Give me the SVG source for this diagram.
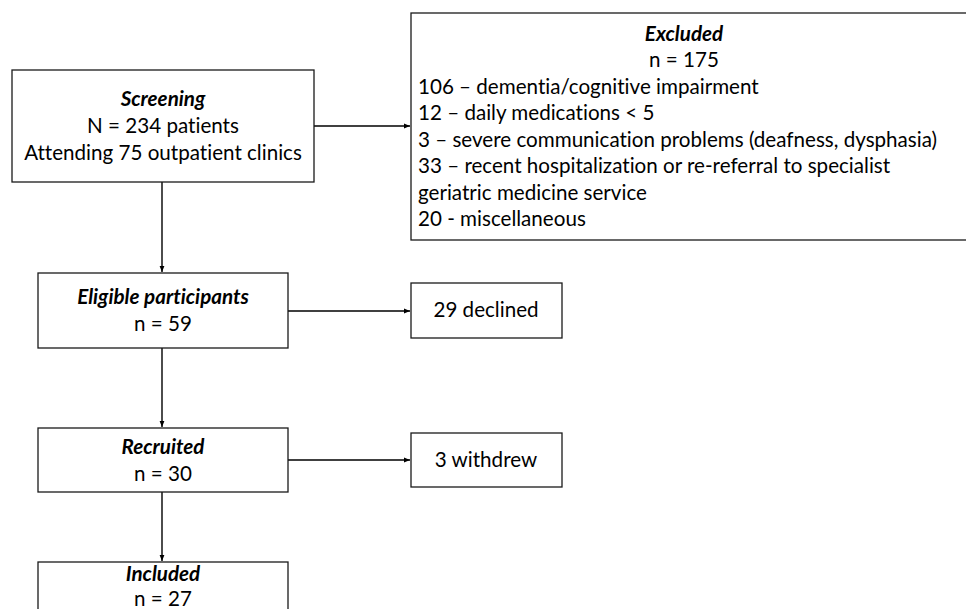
<svg xmlns="http://www.w3.org/2000/svg" width="966" height="609" viewBox="0 0 966 609">
<defs>
<marker id="arr" viewBox="0 0 10 10" refX="10" refY="5" markerWidth="6" markerHeight="6" markerUnits="userSpaceOnUse" orient="auto">
<path d="M0,1 L10,5 L0,9 z" fill="#000"/>
</marker>
<style>
.box{fill:#fff;stroke:#1a1a1a;stroke-width:1.3}
.t{font-family:Lato,"Open Sans","Liberation Sans",sans-serif;font-size:20.6px;fill:#000;font-variant-ligatures:none;font-feature-settings:"liga" 0,"clig" 0}
.c{text-anchor:middle}
.i{font-style:italic;font-weight:bold}
.ln{stroke:#000;stroke-width:1.4;fill:none}
</style>
</defs>
<rect width="966" height="609" fill="#fff"/>
<g id="connectors">
<line class="ln" x1="314" y1="126" x2="410" y2="126" marker-end="url(#arr)"/>
<line class="ln" x1="162" y1="182" x2="162" y2="272" marker-end="url(#arr)"/>
<line class="ln" x1="288" y1="311" x2="410" y2="311" marker-end="url(#arr)"/>
<line class="ln" x1="162" y1="348" x2="162" y2="427" marker-end="url(#arr)"/>
<line class="ln" x1="288" y1="460" x2="410" y2="460" marker-end="url(#arr)"/>
<line class="ln" x1="162" y1="492" x2="162" y2="561" marker-end="url(#arr)"/>
</g>
<g id="screening">
<rect class="box" x="12" y="70" width="302" height="112"/>
<text class="t c i" x="163" y="106">Screening</text>
<text class="t c" x="163" y="133">N = 234 patients</text>
<text class="t c" x="163" y="160">Attending 75 outpatient clinics</text>
</g>
<g id="excluded">
<rect class="box" x="411" y="13" width="570" height="227"/>
<text class="t c i" x="684" y="41">Excluded</text>
<text class="t c" x="684" y="67">n = 175</text>
<text class="t" x="418" y="94">106 – dementia/cognitive impairment</text>
<text class="t" x="418" y="120">12 – daily medications &lt; 5</text>
<text class="t" x="418" y="147">3 – severe communication problems (deafness, dysphasia)</text>
<text class="t" x="418" y="173">33 – recent hospitalization or re-referral to specialist</text>
<text class="t" x="418" y="200">geriatric medicine service</text>
<text class="t" x="418" y="226">20 - miscellaneous</text>
</g>
<g id="eligible">
<rect class="box" x="38" y="273" width="250" height="75"/>
<text class="t c i" x="163" y="304">Eligible participants</text>
<text class="t c" x="163" y="331">n = 59</text>
</g>
<g id="declined">
<rect class="box" x="411" y="283" width="151" height="55"/>
<text class="t c" x="486" y="317">29 declined</text>
</g>
<g id="recruited">
<rect class="box" x="38" y="428" width="250" height="64"/>
<text class="t c i" x="163" y="454">Recruited</text>
<text class="t c" x="163" y="481">n = 30</text>
</g>
<g id="withdrew">
<rect class="box" x="411" y="433" width="151" height="54"/>
<text class="t c" x="486" y="467">3 withdrew</text>
</g>
<g id="included">
<rect class="box" x="38" y="562" width="250" height="60"/>
<text class="t c i" x="163" y="581">Included</text>
<text class="t c" x="163" y="606">n = 27</text>
</g>
</svg>
